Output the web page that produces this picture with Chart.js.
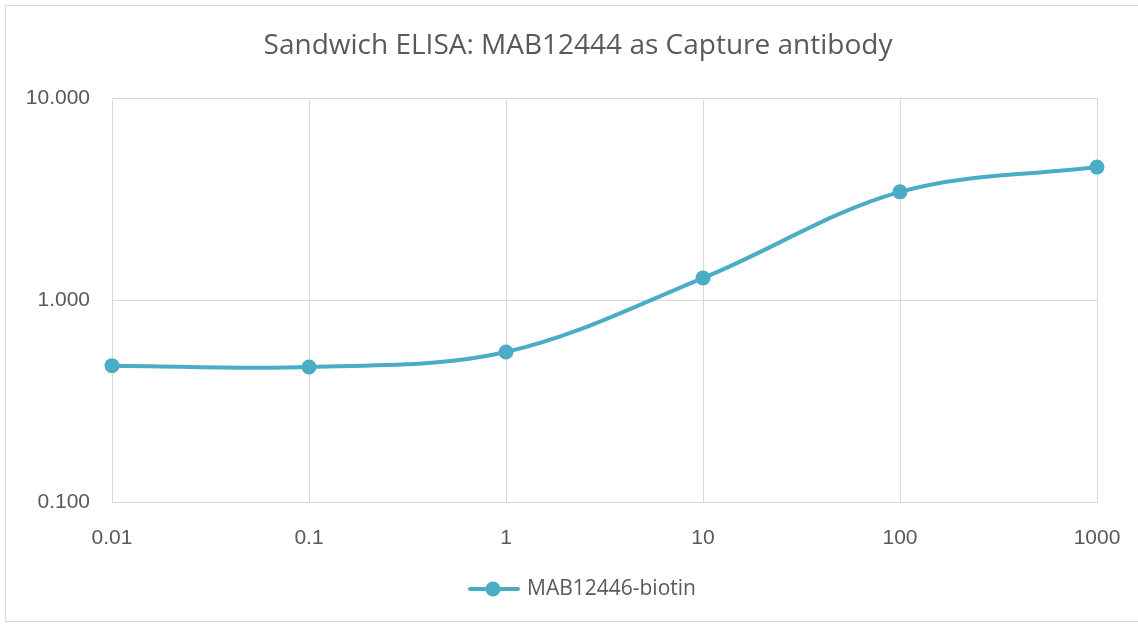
<!DOCTYPE html>
<html>
<head>
<meta charset="utf-8">
<script src="https://cdn.jsdelivr.net/npm/chart.js@4/dist/chart.umd.min.js"></script>
<style>
html,body{margin:0;padding:0;background:#fff;}
#wrap{width:1138px;height:624px;position:relative;}
</style>
</head>
<body>
<div id="wrap"><canvas id="c" width="1138" height="624"></canvas></div>
<script>
const titleText = "Sandwich ELISA: MAB12444 as Capture antibody";
const seriesName = "MAB12446-biotin";
const concentrations = [0.01, 0.1, 1, 10, 100, 1000];
const absorbance = [0.473, 0.466, 0.553, 1.284, 3.43, 4.55];
const xTickValues = [0.01, 0.1, 1, 10, 100, 1000];
const xTickLabels = ["0.01", "0.1", "1", "10", "100", "1000"];
const yTickValues = [0.1, 1, 10];
const yTickLabels = ["0.100", "1.000", "10.000"];

const lineColor = "#4BACC6";
const gridColor = "#d9d9d9";
const textColor = "#595959";

const decorPlugin = {
  id: "decor",
  beforeDraw(chart) {
    const ctx = chart.ctx;
    ctx.save();
    ctx.fillStyle = "#fff";
    ctx.fillRect(0, 0, chart.width, chart.height);
    ctx.strokeStyle = gridColor;
    ctx.lineWidth = 1;
    ctx.strokeRect(5.5, 5.5, 1140, 616);
    ctx.restore();
  },
  afterDraw(chart) {
    const ctx = chart.ctx;
    ctx.save();
    // title
    ctx.fillStyle = textColor;
    ctx.font = "28px 'Open Sans'";
    ctx.textAlign = "center";
    ctx.textBaseline = "middle";
    ctx.fillText(titleText, 578, 46);
    // legend
    const ds = chart.data.datasets[0];
    const lx = 468, ly = 589;
    ctx.strokeStyle = ds.borderColor;
    ctx.lineWidth = 4;
    ctx.lineCap = "round";
    ctx.beginPath(); ctx.moveTo(lx + 2, ly); ctx.lineTo(lx + 50, ly); ctx.stroke();
    ctx.fillStyle = ds.borderColor;
    ctx.beginPath(); ctx.arc(lx + 25, ly, 7.5, 0, Math.PI * 2); ctx.fill();
    ctx.fillStyle = textColor;
    ctx.font = "21px 'Open Sans'";
    ctx.textAlign = "left";
    ctx.fillText(ds.label, lx + 59, ly);
    ctx.restore();
  }
};

new Chart(document.getElementById("c"), {
  type: "line",
  data: {
    datasets: [{
      label: seriesName,
      data: concentrations.map((x, i) => ({ x: x, y: absorbance[i] })),
      borderColor: lineColor,
      backgroundColor: lineColor,
      borderWidth: 4,
      pointRadius: 7.5,
      pointHoverRadius: 7.5,
      pointBackgroundColor: lineColor,
      pointBorderWidth: 0,
      tension: 0.35,
      fill: false,
      clip: false
    }]
  },
  options: {
    responsive: false,
    animation: false,
    devicePixelRatio: 1,
    layout: { padding: { left: 0, right: 41, top: 98, bottom: 0 } },
    plugins: {
      tooltip: { enabled: false },
      title: { display: false },
      legend: { display: false }
    },
    scales: {
      x: {
        type: "logarithmic",
        min: 0.01,
        max: 1000,
        afterBuildTicks(axis) { axis.ticks = xTickValues.map(v => ({ value: v })); },
        afterFit(axis) { axis.height = 122; axis.paddingLeft = 0; axis.paddingRight = 0; },
        grid: { color: gridColor, lineWidth: 1, drawTicks: false },
        border: { color: gridColor, width: 1 },
        ticks: {
          color: textColor,
          font: { family: "Liberation Sans", size: 21 },
          padding: 24,
          autoSkip: false,
          maxRotation: 0,
          callback(value) {
            const i = xTickValues.indexOf(value);
            return i >= 0 ? xTickLabels[i] : "";
          }
        }
      },
      y: {
        type: "logarithmic",
        min: 0.1,
        max: 10,
        afterBuildTicks(axis) { axis.ticks = yTickValues.map(v => ({ value: v })); },
        afterFit(axis) { axis.width = 112; axis.paddingTop = 0; axis.paddingBottom = 0; },
        grid: { color: gridColor, lineWidth: 1, drawTicks: false },
        border: { color: gridColor, width: 1 },
        ticks: {
          color: textColor,
          font: { family: "Liberation Sans", size: 21 },
          padding: 22,
          autoSkip: false,
          callback(value) {
            const i = yTickValues.indexOf(value);
            return i >= 0 ? yTickLabels[i] : "";
          }
        }
      }
    }
  },
  plugins: [decorPlugin]
});
</script>
</body>
</html>
